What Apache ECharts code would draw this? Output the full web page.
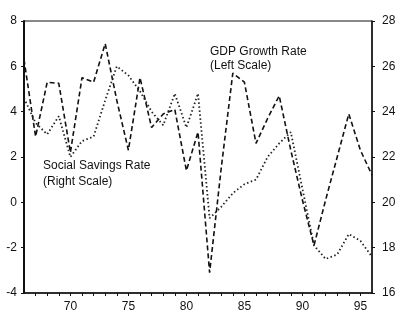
<!DOCTYPE html>
<html>
<head>
<meta charset="utf-8">
<script src="https://cdn.jsdelivr.net/npm/echarts@6/dist/echarts.min.js"></script>
<style>
  html, body { margin: 0; padding: 0; background: #fff; }
  #chart { width: 400px; height: 314px; }
</style>
</head>
<body>
<div id="chart"></div>
<script>
// years (19xx, shown as two digits)
const years = [66, 67, 68, 69, 70, 71, 72, 73, 74, 75, 76, 77, 78, 79, 80, 81,
  82, 83, 84, 85, 86, 87, 88, 89, 90, 91, 92, 93, 94, 95, 96]

// GDP growth rate, % (left scale)
const gdpGrowth = [6.3, 2.9, 5.3, 5.25, 2.2, 5.5, 5.3, 7.0, 4.5, 2.3, 5.5, 3.3,
  3.9, 4.1, 1.4, 3.1, -3.1, 1.5, 5.7, 5.3, 2.6, 3.7, 4.7, 2.3, 0.1, -1.9,
  0.1, 2.0, 3.9, 2.3, 1.2]

// social savings rate, % (right scale)
const savingsRate = [24.6, 23.5, 23.0, 23.8, 22.0, 22.7, 22.9, 24.5, 26.0, 25.6,
  24.9, 24.0, 23.4, 24.8, 23.3, 24.8, 19.3, 19.8, 20.4, 20.8, 21.0, 22.0,
  22.6, 23.1, 20.6, 18.1, 17.5, 17.7, 18.6, 18.3, 17.6]

const leftTicks = [-4, 8, 2]   // min, max, step
const rightTicks = [16, 28, 2]

const chart = echarts.init(document.getElementById('chart'))

const font = 'Liberation Sans, Arial, sans-serif'
const labelStyle = { color: '#111', fontSize: 12, fontFamily: font }

const option = {
  backgroundColor: '#fff',
  animation: false,
  grid: {
    left: 24,
    right: 28,
    top: 21,
    bottom: 21,
    show: true,
    borderColor: '#111',
    borderWidth: 1,
  },
  xAxis: {
    type: 'value',
    min: 66,
    max: 96,
    interval: 1,
    axisLine: { show: true, onZero: false, lineStyle: { color: '#111', width: 1.5 } },
    axisTick: { show: true, length: 3, lineStyle: { color: '#111' } },
    axisLabel: {
      ...labelStyle,
      margin: 8,
      showMinLabel: false,
      showMaxLabel: false,
      formatter: (v) => (v % 5 === 0 ? String(v) : ''),
    },
    splitLine: { show: false },
  },
  yAxis: [
    {
      type: 'value',
      min: leftTicks[0],
      max: leftTicks[1],
      interval: leftTicks[2],
      axisLine: { show: true, lineStyle: { color: '#111', width: 2 } },
      axisTick: { show: true, length: 3, lineStyle: { color: '#111' } },
      axisLabel: { ...labelStyle, margin: 7 },
      splitLine: { show: false },
    },
    {
      type: 'value',
      min: rightTicks[0],
      max: rightTicks[1],
      interval: rightTicks[2],
      position: 'right',
      axisLine: { show: true, lineStyle: { color: '#111', width: 1.5 } },
      axisTick: { show: true, length: 3, lineStyle: { color: '#111' } },
      axisLabel: { ...labelStyle, margin: 10 },
      splitLine: { show: false },
    },
  ],
  graphic: [
    {
      type: 'text',
      left: 210,
      top: 45,
      style: {
        text: 'GDP Growth Rate\n(Left Scale)',
        fill: '#111',
        font: '12px ' + font,
        lineHeight: 14,
      },
    },
    {
      type: 'text',
      left: 43,
      top: 158,
      style: {
        text: 'Social Savings Rate\n(Right Scale)',
        fill: '#111',
        font: '12px ' + font,
        lineHeight: 16,
      },
    },
  ],
  series: [
    {
      name: 'GDP Growth Rate',
      type: 'line',
      yAxisIndex: 0,
      symbol: 'none',
      data: years.map((y, i) => [y, gdpGrowth[i]]),
      lineStyle: { color: '#111', width: 1.6, type: [5, 3] },
    },
    {
      name: 'Social Savings Rate',
      type: 'line',
      yAxisIndex: 1,
      symbol: 'none',
      data: years.map((y, i) => [y, savingsRate[i]]),
      lineStyle: { color: '#222', width: 1.8, type: [1.5, 2.5] },
    },
  ],
}

chart.setOption(option)
</script>
</body>
</html>
